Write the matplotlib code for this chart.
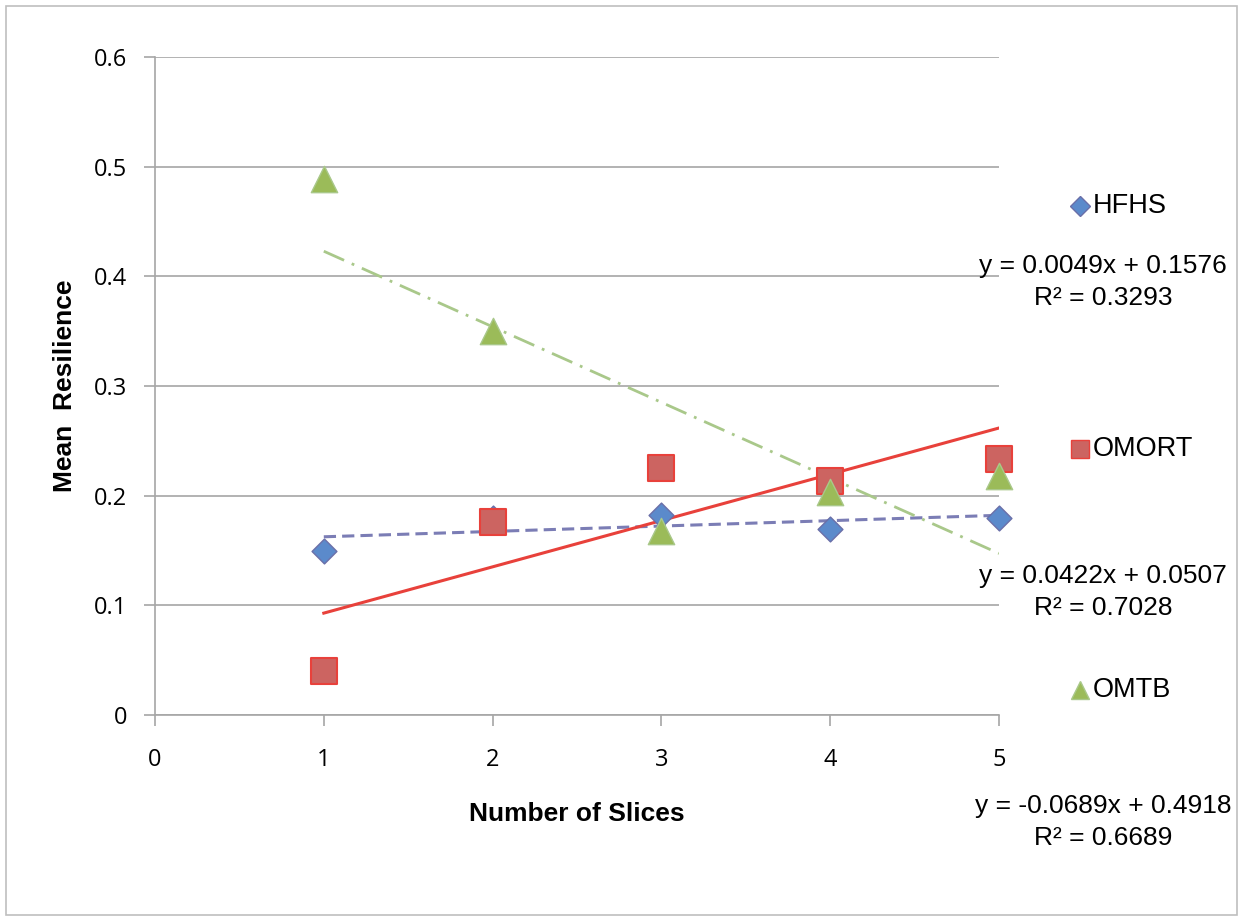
import matplotlib.pyplot as plt
import numpy as np

# data
slices = [1, 2, 3, 4, 5]
hfhs = [0.150, 0.180, 0.182, 0.170, 0.180]
omort = [0.040, 0.176, 0.225, 0.213, 0.233]
omtb = [0.489, 0.350, 0.168, 0.203, 0.218]

# trend line coefficients as printed on the chart (slope, intercept, R2)
hfhs_fit = [0.0049, 0.1576, 0.3293]
omort_fit = [0.0422, 0.0507, 0.7028]
omtb_fit = [-0.0689, 0.4918, 0.6689]

fig = plt.figure(figsize=(12.43, 9.22), dpi=100)
ax = fig.add_axes([155 / 1243, 1 - 715 / 922, (999 - 155) / 1243, (715 - 57) / 922])

# outer chart border
fig.patches.append(plt.Rectangle((6 / 1243, 1 - 915 / 922), 1231 / 1243, 909 / 922,
                                 transform=fig.transFigure, fill=False,
                                 edgecolor='#BFBFBF', linewidth=1.2))

xs = np.array(slices, dtype=float)
ax.plot(xs, hfhs_fit[0] * xs + hfhs_fit[1], color='#7B7DB5', linestyle=(0, (4, 2)), linewidth=2.2, zorder=3)
ax.plot(xs, omort_fit[0] * xs + omort_fit[1], color='#E8413B', linestyle='-', linewidth=2.2, zorder=3)
ax.plot(xs, omtb_fit[0] * xs + omtb_fit[1], color='#A9C88A', linestyle=(0, (8, 3, 1, 3)), linewidth=2.0, zorder=3)

ax.scatter(slices, hfhs, marker='D', s=160, color='#5B8ACB', edgecolor='#6A6FA8', linewidth=1.0, zorder=4, clip_on=False)
ax.scatter(slices, omort, marker='s', s=340, color='#CC6461', edgecolor='#E8413B', linewidth=1.5, zorder=4, clip_on=False)
ax.scatter(slices, omtb, marker='^', s=360, color='#9BBB59', edgecolor='#A9C88A', linewidth=1.0, zorder=5, clip_on=False)

ax.set_xlim(0, 5)
ax.set_ylim(0, 0.6)
ax.set_xticks([0, 1, 2, 3, 4, 5])
ax.set_yticks([0, 0.1, 0.2, 0.3, 0.4, 0.5, 0.6])
ax.set_yticklabels(['0', '0.1', '0.2', '0.3', '0.4', '0.5', '0.6'])
ax.yaxis.grid(True, color='#A6A6A6', linewidth=1.2)
ax.set_axisbelow(True)
for s in ['top', 'right']:
    ax.spines[s].set_visible(False)
for s in ['left', 'bottom']:
    ax.spines[s].set_color('#A6A6A6')
    ax.spines[s].set_linewidth(1.2)
ax.tick_params(axis='both', colors='#A6A6A6', labelcolor='black', labelsize=17, length=8, width=1.2)
ax.tick_params(axis='x', pad=16)
ax.tick_params(axis='y', pad=12)
for lab in ax.get_xticklabels() + ax.get_yticklabels():
    lab.set_family('Open Sans')

ax.set_xlabel('Number of Slices', fontsize=19, fontweight='bold', family='Liberation Sans', labelpad=21)
ax.set_ylabel('Mean  Resilience', fontsize=19, fontweight='bold', family='Liberation Sans', labelpad=12)

# legend entries drawn as figure text
legend = [('HFHS', 'D', '#5B8ACB', '#6A6FA8', 206, 10), ('OMORT', 's', '#CC6461', '#E8413B', 449, 13),
          ('OMTB', '^', '#9BBB59', '#A9C88A', 690, 13)]
for name, m, fc, ec, py, ms in legend:
    fig.lines.append(plt.Line2D([1080 / 1243], [1 - py / 922], marker=m, markersize=ms, color=fc,
                                markeredgecolor=ec, linestyle='none', transform=fig.transFigure))
    fig.text(1093 / 1243, 1 - py / 922, name, fontsize=19.5, family='Liberation Sans', va='center', ha='left')

# trend equations
for fit, py in [(hfhs_fit, 282), (omort_fit, 592), (omtb_fit, 822)]:
    sign = '+' if fit[1] >= 0 else '-'
    txt = 'y = %.4fx %s %.4f\nR² = %.4f' % (fit[0], sign, abs(fit[1]), fit[2])
    fig.text(1103 / 1243, 1 - py / 922, txt, fontsize=19, family='Liberation Sans',
             ha='center', va='center', multialignment='center', linespacing=1.38)

plt.savefig('out.png', dpi=100)
